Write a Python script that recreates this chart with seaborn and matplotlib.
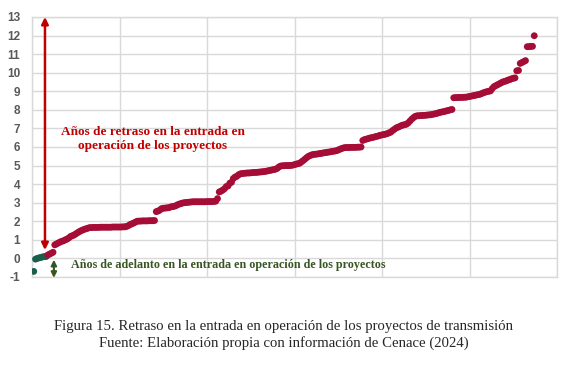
import numpy as np
import pandas as pd
import matplotlib
matplotlib.use('Agg')
import matplotlib.pyplot as plt
import seaborn as sns

# Años de adelanto (negativos / cero) - proyectos ordenados
adelanto = [-0.70, -0.04, 0.00, 0.03, 0.05, 0.08, 0.10, 0.10]

# Años de retraso - proyectos ordenados de menor a mayor
retraso = [
    0.18, 0.23, 0.28, 0.33, 0.73, 0.78, 0.83, 0.88, 0.92, 0.95,
    1.00, 1.04, 1.10, 1.18, 1.22, 1.26, 1.32, 1.38, 1.44, 1.49,
    1.53, 1.57, 1.60, 1.63, 1.66, 1.66, 1.67, 1.67, 1.67, 1.67,
    1.68, 1.68, 1.68, 1.68, 1.68, 1.68, 1.68, 1.69, 1.69, 1.69,
    1.69, 1.69, 1.69, 1.70, 1.70, 1.72, 1.76, 1.82, 1.86, 1.90,
    1.95, 2.00, 2.01, 2.01, 2.02, 2.02, 2.02, 2.02, 2.03, 2.03,
    2.03, 2.04, 2.52, 2.55, 2.60, 2.68, 2.70, 2.71, 2.72, 2.73,
    2.76, 2.79, 2.80, 2.83, 2.88, 2.92, 2.95, 2.98, 3.00, 3.01,
    3.02, 3.03, 3.04, 3.05, 3.05, 3.05, 3.05, 3.05, 3.05, 3.05,
    3.05, 3.06, 3.06, 3.06, 3.06, 3.07, 3.08, 3.22, 3.58, 3.62,
    3.68, 3.75, 3.87, 3.90, 4.05, 4.10, 4.30, 4.38, 4.42, 4.50,
    4.55, 4.57, 4.58, 4.59, 4.60, 4.60, 4.61, 4.62, 4.63, 4.63,
    4.64, 4.65, 4.66, 4.67, 4.68, 4.70, 4.72, 4.74, 4.76, 4.78,
    4.80, 4.84, 4.92, 4.97, 4.99, 4.99, 5.00, 5.00, 5.00, 5.01,
    5.02, 5.05, 5.08, 5.10, 5.13, 5.20, 5.27, 5.35, 5.43, 5.50,
    5.54, 5.58, 5.60, 5.61, 5.62, 5.64, 5.65, 5.67, 5.69, 5.70,
    5.72, 5.73, 5.75, 5.77, 5.78, 5.80, 5.84, 5.88, 5.92, 5.95,
    5.97, 5.97, 5.97, 5.98, 5.98, 5.98, 5.98, 5.99, 5.99, 6.00,
    6.35, 6.40, 6.42, 6.45, 6.48, 6.50, 6.52, 6.55, 6.57, 6.60,
    6.63, 6.65, 6.67, 6.69, 6.72, 6.76, 6.80, 6.88, 6.95, 7.02,
    7.06, 7.10, 7.15, 7.18, 7.20, 7.23, 7.30, 7.40, 7.50, 7.58,
    7.65, 7.68, 7.68, 7.69, 7.70, 7.70, 7.71, 7.72, 7.73, 7.74,
    7.76, 7.78, 7.80, 7.83, 7.86, 7.88, 7.90, 7.92, 7.95, 7.97,
    8.00, 8.02, 8.65, 8.66, 8.66, 8.67, 8.67, 8.67, 8.68, 8.68,
    8.70, 8.72, 8.74, 8.76, 8.78, 8.80, 8.82, 8.84, 8.88, 8.92,
    8.95, 8.98, 9.00, 9.02, 9.15, 9.25, 9.30, 9.35, 9.40, 9.45,
    9.50, 9.53, 9.56, 9.60, 9.63, 9.67, 9.70, 9.72, 10.10, 10.12,
    10.50, 10.55, 10.60, 10.65, 11.40, 11.40, 11.42, 11.42, 11.99,
]

yTicks = list(range(-1, 14))
textoRetraso = 'Años de retraso en la entrada en\noperación de los proyectos'
textoAdelanto = 'Años de adelanto en la entrada en operación de los proyectos'
caption = ('Figura 15. Retraso en la entrada en operación de los proyectos de transmisión\n'
           'Fuente: Elaboración propia con información de Cenace (2024)')

colorRojo = '#A50D36'
colorVerde = '#1B5E4B'
colorFlechaRoja = '#C00000'
colorFlechaVerde = '#375623'
serif = ['Liberation Serif', 'DejaVu Serif']

#Build the dataframe (x = rank of the project)
valores = adelanto + retraso
df = pd.DataFrame({'Proyecto': np.arange(1, len(valores) + 1),
                   'Anios': valores,
                   'Tipo': ['Adelanto'] * len(adelanto) + ['Retraso'] * len(retraso)})

sns.set_style('whitegrid')
plt.rcParams['font.family'] = ['Liberation Sans', 'DejaVu Sans']

fig = plt.figure(figsize=(5.79, 3.66), dpi=100)
ax = fig.add_axes([0.0553, 0.2432, 0.9067, 0.7104])

sns.scatterplot(data=df, x='Proyecto', y='Anios', hue='Tipo',
                palette={'Adelanto': colorVerde, 'Retraso': colorRojo},
                s=24, linewidth=0, legend=False, ax=ax, zorder=3)

ax.set_xlim(0, 300)
ax.set_ylim(-1, 13)
ax.set_xticks(np.arange(0, 301, 50))
ax.set_xticklabels([])
ax.set_yticks(yTicks)
ax.set_yticklabels([str(t) for t in yTicks], fontweight='bold', color='#595959', fontsize=8.5)
ax.tick_params(axis='both', length=0)
ax.tick_params(axis='y', pad=8.5)
ax.set_xlabel('')
ax.set_ylabel('')
ax.grid(True, color='#D9D9D9', linewidth=1)
for sp in ax.spines.values():
    sp.set_color('#D9D9D9')
    sp.set_linewidth(1)

#Arrows
ax.annotate('', xy=(7.4, 13.0), xytext=(7.4, 0.45),
            arrowprops=dict(arrowstyle='<|-|>', color=colorFlechaRoja, lw=1.8,
                            mutation_scale=10, shrinkA=0, shrinkB=0),
            annotation_clip=False, zorder=4)
ax.annotate('', xy=(12.5, -0.07), xytext=(12.5, -1.05),
            arrowprops=dict(arrowstyle='<|-|>', color=colorFlechaVerde, lw=1.5,
                            mutation_scale=8, shrinkA=0, shrinkB=0),
            annotation_clip=False, zorder=4)

#Annotation texts
ax.text(69, 6.43, textoRetraso, color=colorFlechaRoja, fontsize=9.5, fontweight='bold',
        family=serif, ha='center', va='center', linespacing=1.15)
ax.text(22, -0.38, textoAdelanto, color=colorFlechaVerde, fontsize=8.7, fontweight='bold',
        family=serif, ha='left', va='center')

#Caption
fig.text(0.49, 0.084, caption, ha='center', va='center', fontsize=10.6,
         family=serif, linespacing=1.25)

plt.savefig('out.png', dpi=100)
plt.close()
